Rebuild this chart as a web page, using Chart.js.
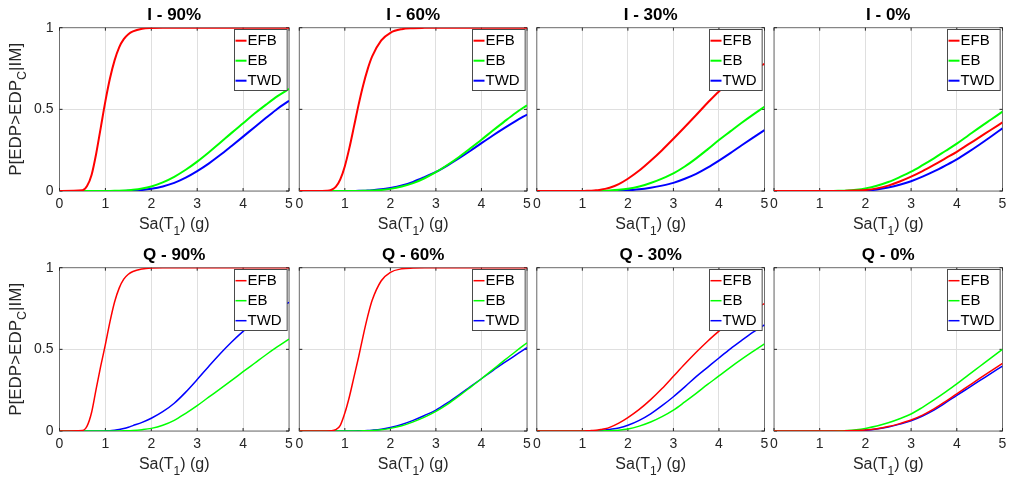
<!DOCTYPE html>
<html>
<head>
<meta charset="utf-8">
<script src="https://cdn.jsdelivr.net/npm/chart.js@4.4.1/dist/chart.umd.min.js"></script>
<style>
html, body { margin: 0; padding: 0; background: #fff; }
#fig { position: relative; width: 1011px; height: 480px; overflow: hidden; background: #fff; }
#fig canvas { position: absolute; }
</style>
</head>
<body>
<div id="fig"></div>
<script>
// Spectral acceleration Sa(T1) [g] at which the fragility curves are sampled
const SA = [0, 0.5, 0.6, 0.7, 0.8, 0.9, 1.0, 1.1, 1.2, 1.3, 1.4, 1.5, 1.6, 1.8, 2.0,
            2.25, 2.5, 2.75, 3.0, 3.25, 3.5, 3.75, 4.0, 4.25, 4.5, 4.75, 5.0];

// Probability of exceedance P[EDP > EDPc | IM], one array per system and case
const I90_EFB = [0, 0.004, 0.03, 0.1, 0.23, 0.39, 0.55, 0.69, 0.8, 0.88, 0.93, 0.96, 0.977, 0.993, 0.998, 1, 1, 1, 1, 1, 1, 1, 1, 1, 1, 1, 1];
const I90_EB  = [0, 0, 0, 0, 0, 0, 0.0002, 0.0004, 0.0008, 0.0015, 0.0027, 0.0045, 0.007, 0.015, 0.028, 0.053, 0.087, 0.13, 0.18, 0.236, 0.295, 0.356, 0.415, 0.474, 0.529, 0.581, 0.625];
const I90_TWD = [0, 0, 0, 0, 0, 0, 0, 0, 0, 0.0002, 0.0006, 0.0016, 0.0027, 0.0066, 0.0136, 0.028, 0.05, 0.082, 0.122, 0.168, 0.22, 0.276, 0.333, 0.391, 0.448, 0.504, 0.552];

const I60_EFB = [0, 0, 0.0008, 0.006, 0.025, 0.071, 0.152, 0.264, 0.394, 0.526, 0.645, 0.745, 0.824, 0.922, 0.969, 0.991, 0.997, 0.999, 1, 1, 1, 1, 1, 1, 1, 1, 1];
const I60_EB  = [0, 0, 0, 0, 0, 0, 0, 0, 0.0002, 0.0004, 0.0009, 0.0016, 0.003, 0.0066, 0.013, 0.027, 0.048, 0.078, 0.115, 0.159, 0.207, 0.26, 0.314, 0.37, 0.425, 0.478, 0.525];
const I60_TWD = [0, 0, 0, 0, 0, 0, 0, 0, 0.0004, 0.0008, 0.0016, 0.003, 0.005, 0.01, 0.019, 0.034, 0.056, 0.085, 0.117, 0.156, 0.199, 0.245, 0.293, 0.34, 0.385, 0.428, 0.468];

const I30_EFB = [0, 0, 0, 0, 0, 0, 0.0005, 0.001, 0.002, 0.004, 0.008, 0.013, 0.02, 0.042, 0.075, 0.125, 0.185, 0.25, 0.32, 0.392, 0.465, 0.54, 0.61, 0.663, 0.71, 0.748, 0.778];
const I30_EB  = [0, 0, 0, 0, 0, 0, 0, 0, 0, 0.0005, 0.001, 0.002, 0.003, 0.007, 0.014, 0.028, 0.049, 0.076, 0.108, 0.15, 0.2, 0.255, 0.312, 0.365, 0.418, 0.468, 0.516];
const I30_TWD = [0, 0, 0, 0, 0, 0, 0, 0, 0, 0, 0, 0.0002, 0.0005, 0.002, 0.004, 0.01, 0.02, 0.033, 0.05, 0.075, 0.105, 0.143, 0.186, 0.232, 0.28, 0.327, 0.373];

const I0_EFB  = [0, 0, 0, 0, 0, 0, 0, 0, 0, 0, 0, 0.0005, 0.001, 0.003, 0.006, 0.016, 0.033, 0.058, 0.088, 0.122, 0.16, 0.2, 0.24, 0.285, 0.33, 0.375, 0.42];
const I0_EB   = [0, 0, 0, 0, 0, 0, 0, 0, 0, 0.0004, 0.001, 0.002, 0.003, 0.008, 0.016, 0.032, 0.055, 0.085, 0.118, 0.158, 0.2, 0.245, 0.29, 0.34, 0.39, 0.438, 0.486];
const I0_TWD  = [0, 0, 0, 0, 0, 0, 0, 0, 0, 0, 0, 0, 0.0003, 0.001, 0.002, 0.009, 0.021, 0.038, 0.06, 0.088, 0.12, 0.156, 0.194, 0.238, 0.285, 0.334, 0.384];

const Q90_EFB = [0, 0.003, 0.03, 0.115, 0.26, 0.4, 0.53, 0.67, 0.79, 0.875, 0.93, 0.96, 0.977, 0.992, 0.998, 1, 1, 1, 1, 1, 1, 1, 1, 1, 1, 1, 1];
const Q90_EB  = [0, 0, 0, 0, 0, 0, 0, 0, 0.0003, 0.0006, 0.001, 0.002, 0.003, 0.008, 0.016, 0.035, 0.065, 0.108, 0.155, 0.207, 0.258, 0.31, 0.363, 0.415, 0.467, 0.516, 0.563];
const Q90_TWD = [0, 0, 0, 0, 0, 0, 0.001, 0.002, 0.005, 0.009, 0.015, 0.023, 0.033, 0.053, 0.078, 0.118, 0.17, 0.238, 0.315, 0.395, 0.473, 0.545, 0.61, 0.667, 0.714, 0.754, 0.788];

const Q60_EFB = [0, 0, 0, 0.001, 0.008, 0.035, 0.11, 0.21, 0.33, 0.45, 0.58, 0.7, 0.8, 0.92, 0.972, 0.993, 0.998, 1, 1, 1, 1, 1, 1, 1, 1, 1, 1];
const Q60_EB  = [0, 0, 0, 0, 0, 0, 0, 0, 0.0002, 0.0005, 0.001, 0.002, 0.003, 0.008, 0.016, 0.032, 0.056, 0.085, 0.12, 0.163, 0.213, 0.266, 0.32, 0.376, 0.432, 0.487, 0.54];
const Q60_TWD = [0, 0, 0, 0, 0, 0, 0, 0.0002, 0.0005, 0.001, 0.002, 0.003, 0.005, 0.011, 0.022, 0.04, 0.065, 0.095, 0.128, 0.172, 0.22, 0.27, 0.32, 0.37, 0.418, 0.465, 0.51];

const Q30_EFB = [0, 0, 0, 0, 0, 0, 0.0005, 0.001, 0.003, 0.005, 0.009, 0.014, 0.022, 0.048, 0.082, 0.132, 0.192, 0.26, 0.335, 0.41, 0.482, 0.55, 0.612, 0.665, 0.71, 0.748, 0.78];
const Q30_EB  = [0, 0, 0, 0, 0, 0, 0, 0, 0, 0, 0.0005, 0.001, 0.002, 0.005, 0.012, 0.03, 0.055, 0.088, 0.128, 0.178, 0.23, 0.285, 0.337, 0.39, 0.44, 0.487, 0.533];
const Q30_TWD = [0, 0, 0, 0, 0, 0, 0, 0, 0.001, 0.002, 0.004, 0.006, 0.01, 0.019, 0.035, 0.065, 0.105, 0.155, 0.21, 0.27, 0.333, 0.39, 0.447, 0.503, 0.555, 0.605, 0.65];

const Q0_EFB  = [0, 0, 0, 0, 0, 0, 0, 0, 0, 0, 0, 0.0004, 0.001, 0.003, 0.006, 0.014, 0.027, 0.045, 0.067, 0.097, 0.135, 0.18, 0.228, 0.275, 0.322, 0.368, 0.414];
const Q0_EB   = [0, 0, 0, 0, 0, 0, 0, 0, 0, 0.0004, 0.001, 0.002, 0.003, 0.008, 0.016, 0.03, 0.05, 0.075, 0.104, 0.145, 0.19, 0.238, 0.288, 0.342, 0.395, 0.448, 0.5];
const Q0_TWD  = [0, 0, 0, 0, 0, 0, 0, 0, 0, 0, 0, 0.0003, 0.001, 0.002, 0.004, 0.012, 0.024, 0.042, 0.063, 0.092, 0.128, 0.172, 0.218, 0.263, 0.308, 0.353, 0.398];

// Panel titles, legend entries and axis ticks
const TITLES = ['I - 90%', 'I - 60%', 'I - 30%', 'I - 0%', 'Q - 90%', 'Q - 60%', 'Q - 30%', 'Q - 0%'];
const SYSTEMS = ['EFB', 'EB', 'TWD'];
const X_TICKS = [0, 1, 2, 3, 4, 5];
const Y_TICKS = [0, 0.5, 1];

const PANEL_CURVES = [
  [I90_EFB, I90_EB, I90_TWD], [I60_EFB, I60_EB, I60_TWD], [I30_EFB, I30_EB, I30_TWD], [I0_EFB, I0_EB, I0_TWD],
  [Q90_EFB, Q90_EB, Q90_TWD], [Q60_EFB, Q60_EB, Q60_TWD], [Q30_EFB, Q30_EB, Q30_TWD], [Q0_EFB, Q0_EB, Q0_TWD]
];

// ---- styling & layout ----
const COLORS = ['#ff0000', '#00ff00', '#0000ff'];
const FONT = '"Liberation Sans", Arial, Helvetica, sans-serif';
const TEXT = '#262626';
const GRID = '#dfdfdf';
const AXIS = '#707070';
const COL_L = [59.5, 299.3, 536.8, 774.0];
const COL_R = [289.0, 527.0, 764.5, 1002.5];
const ROW_T = [27.7, 267.7];
const ROW_B = [191.0, 431.0];
const LINE_W = [2, 1.5];
const X_AXIS_H = 30;   // room under each axes for the tick labels
const Y_AXIS_W = 50;   // room left of the first column for the tick labels

// text with a single-level subscript: parts = [[text, isSub], ...]
function partsWidth(ctx, parts, size, subSize) {
  let w = 0;
  parts.forEach(([t, sub]) => {
    ctx.font = (sub ? subSize : size) + 'px ' + FONT;
    w += ctx.measureText(t).width;
  });
  return w;
}
function drawParts(ctx, parts, x, y, size, subSize, subDrop) {
  ctx.textAlign = 'left';
  ctx.textBaseline = 'alphabetic';
  parts.forEach(([t, sub]) => {
    ctx.font = (sub ? subSize : size) + 'px ' + FONT;
    ctx.fillText(t, x, sub ? y + subDrop : y);
    x += ctx.measureText(t).width;
  });
}

const X_LABEL = [['Sa(T', 0], ['1', 1], [') (g)', 0]];
const Y_LABEL = [['P[EDP>EDP', 0], ['C', 1], ['|IM]', 0]];

const decor = {
  id: 'decor',
  beforeDatasetsDraw(chart, args, o) {
    const { ctx, chartArea: a, scales } = chart;
    ctx.save();
    ctx.strokeStyle = AXIS;
    ctx.lineWidth = 1;
    ctx.strokeRect(a.left, a.top, a.right - a.left, a.bottom - a.top);
    ctx.strokeStyle = TEXT;
    ctx.beginPath();
    X_TICKS.forEach(v => {
      const x = scales.x.getPixelForValue(v);
      ctx.moveTo(x, a.bottom); ctx.lineTo(x, a.bottom - 3);
      ctx.moveTo(x, a.top); ctx.lineTo(x, a.top + 3);
    });
    Y_TICKS.forEach(v => {
      const y = scales.y.getPixelForValue(v);
      ctx.moveTo(a.left, y); ctx.lineTo(a.left + 3, y);
      ctx.moveTo(a.right, y); ctx.lineTo(a.right - 3, y);
    });
    ctx.stroke();
    ctx.restore();
  },
  afterDatasetsDraw(chart, args, o) {
    // legend box in the upper right corner of the axes
    const { ctx, chartArea: a } = chart;
    ctx.save();
    ctx.font = '15px ' + FONT;
    const tw = Math.max(...chart.data.datasets.map(d => ctx.measureText(d.label).width));
    const w = 13 + tw + 5.5, h = 61;
    const x0 = Math.round(a.right - 2.5 - w) + 0.5;
    const y0 = Math.round(a.top + 1.6) + 0.5;
    ctx.fillStyle = '#fff';
    ctx.fillRect(x0, y0, w, h);
    ctx.strokeStyle = '#4a4a4a';
    ctx.lineWidth = 1;
    ctx.strokeRect(x0, y0, w, h);
    chart.data.datasets.forEach((d, k) => {
      const yy = y0 + 11.2 + 20 * k;
      ctx.strokeStyle = d.borderColor;
      ctx.lineWidth = d.borderWidth;
      ctx.beginPath();
      ctx.moveTo(x0 + 1, yy); ctx.lineTo(x0 + 12, yy);
      ctx.stroke();
      ctx.fillStyle = '#000';
      ctx.textAlign = 'left';
      ctx.textBaseline = 'middle';
      ctx.fillText(d.label, x0 + 13, yy + 0.5);
    });
    ctx.restore();
  },
  afterDraw(chart, args, o) {
    const { ctx, chartArea: a } = chart;
    const cx = (a.left + a.right) / 2;
    ctx.save();
    ctx.fillStyle = '#000';
    ctx.font = 'bold 17px ' + FONT;
    ctx.textAlign = 'center';
    ctx.textBaseline = 'alphabetic';
    ctx.fillText(o.title, cx, a.top - 8.2);

    ctx.fillStyle = TEXT;
    const xw = partsWidth(ctx, X_LABEL, 16, 12);
    drawParts(ctx, X_LABEL, cx - xw / 2, a.bottom + 38.3, 16, 12, 5.5);

    if (o.yLabel) {
      const yw = partsWidth(ctx, Y_LABEL, 17, 12.5);
      ctx.translate(20.7, (a.top + a.bottom) / 2);
      ctx.rotate(-Math.PI / 2);
      drawParts(ctx, Y_LABEL, -yw / 2, 0, 17, 12.5, 5.5);
    }
    ctx.restore();
  }
};

const fig = document.getElementById('fig');
PANEL_CURVES.forEach((curves, i) => {
  const col = i % 4, row = Math.floor(i / 4);
  const cl = Math.max(0, Math.floor(COL_L[col]) - 60);
  const ct = row * 240;
  const cw = Math.ceil(COL_R[col]) + 20 - cl;
  const ch = 240;
  const canvas = document.createElement('canvas');
  canvas.width = cw; canvas.height = ch;
  canvas.style.left = cl + 'px'; canvas.style.top = ct + 'px';
  canvas.style.width = cw + 'px'; canvas.style.height = ch + 'px';
  fig.appendChild(canvas);

  const yW = col === 0 ? Y_AXIS_W : 0;
  const pad = {
    left: COL_L[col] - cl - yW,
    top: ROW_T[row] - ct,
    right: cw - (COL_R[col] - cl),
    bottom: ch - (ROW_B[row] - ct) - X_AXIS_H
  };

  new Chart(canvas, {
    type: 'line',
    data: {
      datasets: curves.map((vals, k) => ({
        label: SYSTEMS[k],
        data: SA.map((x, j) => ({ x: x, y: vals[j] })),
        borderColor: COLORS[k],
        backgroundColor: COLORS[k],
        borderWidth: LINE_W[row],
        pointRadius: 0,
        fill: false,
        cubicInterpolationMode: 'monotone'
      }))
    },
    options: {
      responsive: false,
      animation: false,
      devicePixelRatio: 1,
      events: [],
      layout: { padding: pad },
      plugins: {
        legend: { display: false },
        title: { display: false },
        tooltip: { enabled: false },
        decor: { title: TITLES[i], yLabel: col === 0 }
      },
      scales: {
        x: {
          type: 'linear', min: 0, max: 5,
          afterBuildTicks: s => { s.ticks = X_TICKS.map(v => ({ value: v })); },
          afterFit: s => { s.height = X_AXIS_H; },
          grid: { color: GRID, lineWidth: 1, drawTicks: false },
          border: { display: false },
          ticks: { padding: 5, color: TEXT, font: { family: FONT, size: 14 }, maxRotation: 0, autoSkip: false,
                   callback: v => String(v) }
        },
        y: {
          type: 'linear', min: 0, max: 1,
          afterBuildTicks: s => { s.ticks = Y_TICKS.map(v => ({ value: v })); },
          afterFit: s => { s.width = yW; },
          grid: { color: GRID, lineWidth: 1, drawTicks: false },
          border: { display: false },
          ticks: { display: col === 0, padding: 6, color: TEXT, font: { family: FONT, size: 14 },
                   callback: v => String(v) }
        }
      }
    },
    plugins: [decor]
  });
});
</script>
</body>
</html>
